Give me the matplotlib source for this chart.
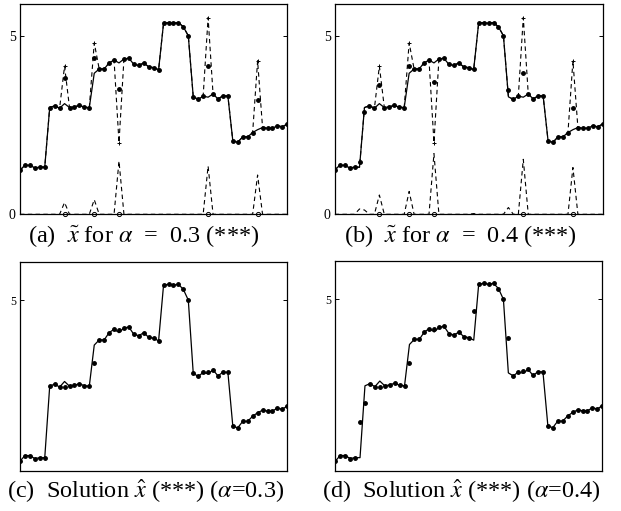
import numpy as np
import matplotlib
matplotlib.use('Agg')
import matplotlib.pyplot as plt

plt.rcParams['font.family'] = ['Liberation Serif', 'DejaVu Serif']
plt.rcParams['mathtext.fontset'] = 'stix'

n = np.arange(1, 56)

# true piecewise signal
x_true = [1.24, 1.37, 1.37, 1.30, 1.32, 1.32,
          2.99, 3.04, 2.97, 3.10, 2.99, 3.01, 3.05, 3.00, 2.99,
          3.95, 4.07, 4.07, 4.24, 4.32, 4.24, 4.35, 4.37, 4.20, 4.17, 4.24, 4.13, 4.11, 4.05,
          5.35, 5.37, 5.35, 5.37, 5.25, 5.00,
          3.29, 3.22, 3.31, 3.28, 3.37, 3.23, 3.32, 3.31,
          2.05, 2.02, 2.17, 2.17, 2.29, 2.37, 2.43, 2.41, 2.41, 2.48, 2.45, 2.53]

# outliers in the observations
outlier_idx = [10, 16, 21, 39, 49]
outlier_val = [4.15, 4.80, 2.01, 5.51, 4.30]

# points where the estimates leave the true signal
xtilde_03 = {10: 3.82, 16: 4.39, 21: 3.50, 39: 4.16, 49: 3.20}
xtilde_04 = {6: 1.47, 7: 2.87, 10: 3.61, 16: 4.16, 21: 3.71, 29: 4.07,
             36: 3.48, 39: 3.97, 49: 2.99}
xhat_03 = {10: 2.96, 16: 3.53, 21: 4.31, 39: 3.33}
xhat_04 = {6: 2.14, 7: 2.58, 10: 2.96, 16: 3.52, 21: 4.30, 29: 4.72,
           36: 4.10, 39: 3.34}


def with_changes(base, changes):
    arr = np.array(base, dtype=float)
    for k, v in changes.items():
        arr[k - 1] = v
    return arr


y_obs = with_changes(x_true, dict(zip(outlier_idx, outlier_val)))

DASH = (0, (4, 3))


def style_axes(ax, ylim, yticks, labelsize):
    ax.set_xlim(1, 55)
    ax.set_ylim(*ylim)
    ax.set_xticks([])
    ax.set_yticks(yticks)
    ax.tick_params(direction='in', right=True, length=3, width=0.7,
                   labelsize=labelsize, pad=3)
    for s in ax.spines.values():
        s.set_linewidth(0.9)


def top_panel(ax, xt):
    resid = np.abs(y_obs - xt)
    ax.plot(n, y_obs, color='k', ls=DASH, lw=0.8)
    ax.plot(n, x_true, 'k-', lw=0.9)
    ax.plot(n, xt, 'ko', ls='none', ms=2.5)
    ax.plot(outlier_idx, outlier_val, 'k+', ms=3.5, mew=0.7)
    ax.plot(n, resid, color='k', ls=DASH, lw=0.8)
    ax.plot(outlier_idx, np.zeros(len(outlier_idx)), 'ko', mfc='none',
            ms=3, mew=0.7, clip_on=False)
    style_axes(ax, (0, 5.89), [0, 5], 10)


def bottom_panel(ax, xh):
    ax.plot(n, x_true, 'k-', lw=0.9)
    ax.plot(n, xh, 'ko', ls='none', ms=2.5)
    style_axes(ax, (1.01, 5.89), [5], 8.5)


W, H = 621, 511
fig = plt.figure(figsize=(W / 100, H / 100), dpi=100)

ax_a = fig.add_axes([20 / W, 1 - 214.3 / H, 267.3 / W, 210.3 / H])
ax_b = fig.add_axes([334.7 / W, 1 - 214.3 / H, 268 / W, 210.3 / H])
ax_c = fig.add_axes([20 / W, 1 - 471 / H, 267.3 / W, 209 / H])
ax_d = fig.add_axes([335.3 / W, 1 - 471 / H, 267 / W, 210 / H])

top_panel(ax_a, with_changes(x_true, xtilde_03))
top_panel(ax_b, with_changes(x_true, xtilde_04))
bottom_panel(ax_c, with_changes(x_true, xhat_03))
bottom_panel(ax_d, with_changes(x_true, xhat_04))

cap = 17.5
fig.text(144 / W, 1 - 236 / H, r'(a)  $\tilde{x}$ for $\alpha$  =  0.3 (***)',
         ha='center', va='center', fontsize=cap)
fig.text(460 / W, 1 - 236 / H, r'(b)  $\tilde{x}$ for $\alpha$  =  0.4 (***)',
         ha='center', va='center', fontsize=cap)
fig.text(146 / W, 1 - 491 / H, r'(c)  Solution $\hat{x}$ (***) ($\alpha$=0.3)',
         ha='center', va='center', fontsize=cap)
fig.text(461 / W, 1 - 491 / H, r'(d)  Solution $\hat{x}$ (***) ($\alpha$=0.4)',
         ha='center', va='center', fontsize=cap)

fig.savefig('out.png', dpi=100)
